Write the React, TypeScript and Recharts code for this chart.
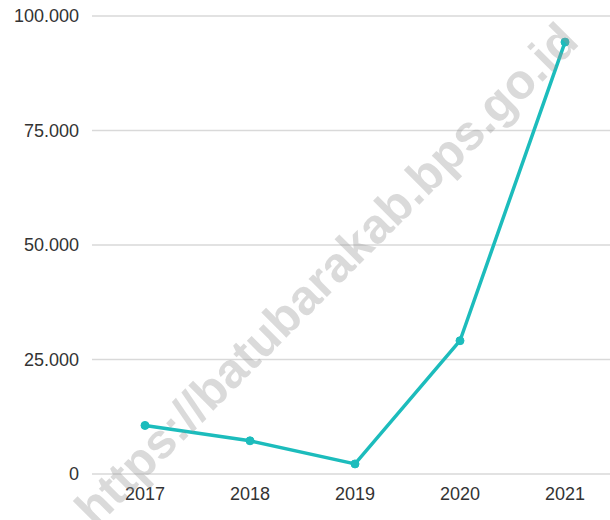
import { LineChart, Line, XAxis, YAxis, CartesianGrid } from "recharts";

const years = ["2017", "2018", "2019", "2020", "2021"];
const values = [10600, 7250, 2200, 29100, 94300];
const yTicks = [0, 25000, 50000, 75000, 100000];

const data = years.map((year, i) => ({ year, value: values[i] }));

const fmt = (v: number) => v.toLocaleString("id-ID");

export default function App() {
  return (
    <div style={{ position: "absolute", left: 0, top: 0, width: 610, height: 520, overflow: "hidden", background: "#fff" }}>
      <LineChart width={630} height={520} data={data} margin={{ top: 16, right: 0, bottom: 16, left: 0 }}>
        <CartesianGrid vertical={false} stroke="#d9d9d9" strokeWidth={1.5} />
        <XAxis
          dataKey="year"
          axisLine={false}
          tickLine={false}
          tickMargin={7}
          height={30}
          padding={{ left: 53, right: 65 }}
          tick={{ fill: "#333", fontSize: 18, fontFamily: "Liberation Sans, Arial, sans-serif" }}
        />
        <YAxis
          domain={[0, 100000]}
          ticks={yTicks}
          tickFormatter={fmt}
          axisLine={false}
          tickLine={false}
          width={92}
          tickMargin={7}
          tick={{ fill: "#333", fontSize: 18, fontFamily: "Liberation Sans, Arial, sans-serif" }}
        />
        <Line
          type="linear"
          dataKey="value"
          stroke="#1cbcbc"
          strokeWidth={3.5}
          dot={{ r: 4, fill: "#1cbcbc", stroke: "#1cbcbc", strokeWidth: 1 }}
          isAnimationActive={false}
        />
      </LineChart>
      <div
        style={{
          position: "absolute",
          left: 326,
          top: 274,
          transform: "translate(-50%, -50%) rotate(-45deg)",
          whiteSpace: "nowrap",
          fontFamily: "Liberation Sans, Arial, sans-serif",
          fontWeight: "bold",
          fontSize: 49,
          color: "rgba(150,150,150,0.35)",
          pointerEvents: "none",
        }}
      >
        https://batubarakab.bps.go.id
      </div>
    </div>
  );
}
